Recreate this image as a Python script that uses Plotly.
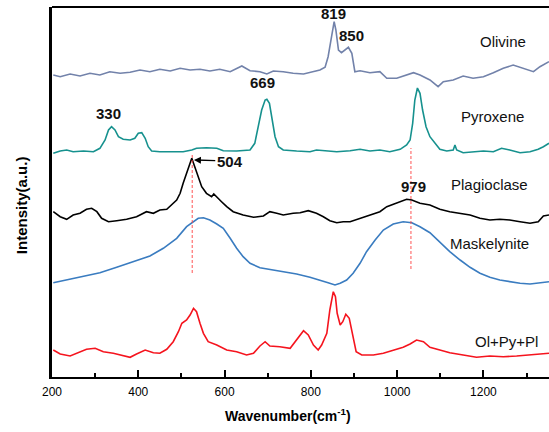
import plotly.graph_objects as go

# ---- data (wavenumber, relative intensity with vertical offsets) ----
ol_x = [203, 219, 242, 265, 288, 311, 334, 358, 381, 404, 427, 450, 474, 497, 520, 543, 566, 589, 613, 640,
        659, 682, 698, 713, 736, 759, 783, 806, 821, 833, 840, 848, 854, 858, 864, 871, 879, 887, 895, 902,
        914, 937, 960, 976, 999, 1022, 1038, 1053, 1076, 1095, 1107, 1130, 1153, 1176, 1200, 1223, 1246, 1269,
        1292, 1316, 1331, 1352]
ol_y = [302, 300.3, 303, 301, 303.7, 302, 305.3, 303.7, 304.7, 307, 305.3, 307.7, 306, 308.7, 307, 307.7, 306,
        307.7, 305.3, 311, 306.3, 305.3, 303, 306, 305.3, 303.7, 303, 305.3, 307, 309.7, 320.3, 340.3, 355.3,
        347, 327, 324.3, 327, 329.7, 323.7, 305.3, 306.3, 304.3, 305.3, 298.7, 298.7, 302, 304.3, 302, 297,
        290.3, 295.3, 297, 301, 298.7, 300.3, 304.3, 308.7, 312, 308.7, 305.3, 310.3, 315.3]

py_x = [203, 219, 234, 249, 273, 296, 311, 323, 331, 338, 346, 354, 365, 381, 392, 400, 408, 416, 423, 431,
        450, 474, 504, 524, 535, 558, 582, 597, 628, 659, 670, 678, 686, 694, 698, 704, 709, 717, 725, 736,
        767, 798, 813, 837, 860, 891, 914, 937, 960, 983, 1007, 1022, 1030, 1036, 1041, 1047, 1053, 1059,
        1067, 1076, 1088, 1099, 1115, 1130, 1134, 1138, 1153, 1176, 1200, 1223, 1242, 1261, 1285, 1308,
        1327, 1339, 1352]
py_y = [223.7, 226, 227, 225.3, 226, 225.3, 228.7, 237, 247, 250.3, 247, 240.3, 237.7, 237, 238.7, 243.7, 244.3,
        238.7, 230.3, 226, 225.3, 225.3, 225.3, 227, 228.7, 229.3, 228.7, 226.3, 226, 227, 233.7, 250.3, 267,
        277, 277.7, 273.7, 260.3, 240.3, 230.3, 227, 226, 225.3, 227, 226, 225.3, 226.3, 227.7, 226, 227,
        225.3, 227.7, 232, 237, 253.7, 277, 289, 283.7, 267, 250.3, 240.3, 233.7, 227.7, 226, 227, 232, 227,
        224.3, 225.3, 226, 225.3, 228.7, 227, 224.3, 225.3, 227.7, 230.3, 233.7]

pl_x = [203, 219, 234, 249, 265, 280, 292, 304, 315, 331, 350, 373, 396, 419, 435, 450, 466, 477, 489, 497,
        504, 524, 531, 539, 547, 558, 570, 575, 582, 593, 605, 620, 643, 667, 690, 705, 721, 736, 759, 775,
        794, 813, 829, 844, 860, 875, 891, 914, 937, 960, 976, 999, 1022, 1034, 1053, 1076, 1099, 1122, 1146,
        1169, 1192, 1215, 1238, 1261, 1285, 1308, 1327, 1339, 1352]
pl_y = [165.3, 160.3, 157.7, 162, 163.7, 167.7, 168.7, 165.3, 158.7, 155.3, 156.3, 157.7, 160.3, 165.3, 163.7,
        167, 167.7, 172, 177, 183.7, 193.7, 218.7, 210.3, 200.3, 190.3, 183.7, 180.3, 183, 180.3, 175.3, 170.3,
        165.3, 162, 159.7, 161, 165.3, 163.7, 162, 163.7, 164.3, 166.3, 163.7, 160.3, 156.3, 154.3, 155.3,
        155.3, 158.7, 162, 165.3, 170.3, 174.3, 177.7, 177, 173.7, 172, 167.7, 165.3, 163.7, 162, 158.7, 157,
        157.7, 157, 155.3, 153.7, 155.3, 161, 162]

mk_x = [203, 234, 273, 311, 350, 389, 427, 458, 489, 512, 528, 539, 551, 566, 582, 597, 613, 628, 643, 659,
        682, 705, 736, 767, 798, 821, 840, 856, 868, 883, 898, 914, 929, 949, 968, 991, 1014, 1034, 1053, 1076,
        1099, 1122, 1146, 1169, 1192, 1215, 1238, 1261, 1285, 1308, 1331, 1352]
mk_y = [94.3, 97, 100.3, 104.3, 109.7, 115.3, 121, 128.7, 138.7, 150.3, 155.3, 158.7, 159.3, 157, 153, 148.7,
        138.7, 128.7, 120.3, 113.7, 109.3, 107.7, 105.3, 103, 99.7, 97, 94.3, 92, 93.7, 97, 103.7, 113.7, 125.3,
        137, 147, 153, 155.3, 154.3, 150.3, 144.3, 135.3, 125.3, 117, 109.7, 103.7, 99.7, 97, 95.3, 93.7, 93,
        94.3, 95.3]

mix_x = [203, 219, 242, 265, 280, 300, 319, 342, 365, 381, 396, 416, 435, 450, 466, 481, 493, 501, 512, 520,
         528, 535, 543, 551, 562, 582, 605, 628, 651, 667, 682, 694, 705, 728, 752, 767, 783, 794, 806, 817,
         825, 837, 844, 852, 857, 861, 868, 874, 881, 889, 897, 905, 918, 945, 968, 991, 1014, 1030, 1045, 1061,
         1076, 1099, 1122, 1153, 1184, 1215, 1246, 1277, 1308, 1339, 1352]
mix_y = [27, 23, 21, 25.3, 27.7, 28.7, 25.3, 23.7, 21, 19.7, 23, 27, 24.3, 23.7, 27.7, 35.3, 45.3, 53.7, 57, 62,
         68.7, 65.3, 53.7, 43.7, 35.3, 32, 27, 25.3, 22, 23.7, 31, 35.3, 31, 30.3, 28.7, 37, 46.3, 42, 32, 27, 32,
         43.7, 67, 85.3, 80.3, 63.7, 52, 55.3, 62.7, 58.7, 40.3, 25.3, 22, 22, 23.7, 27, 29.7, 33, 37, 35.3, 29.7,
         27, 24.3, 22, 19.7, 21, 20.3, 21, 22, 23, 23.7]

names = ["Olivine", "Pyroxene", "Plagioclase", "Maskelynite", "Ol+Py+Pl"]
colors = ["#7282aa", "#16918e", "#000000", "#3a7cc0", "#f5141e"]

# guide lines (wavenumber, intensity range)
guide_x = [525, 1032]
guide_y0 = [104, 108]
guide_y1 = [222, 229]

# labels
peak_text = ["819", "850", "669", "330", "979"]
peak_x = [853, 895, 689, 330, 1037]
peak_y = [364, 342, 295, 264, 191]
name_x = [1245, 1222, 1215, 1215, 1254]
name_y = [336, 261, 193, 134, 36]

FONT = "Liberation Sans, Arial"

fig = go.Figure()
for xs, ys, nm, c in zip([ol_x, py_x, pl_x, mk_x, mix_x], [ol_y, py_y, pl_y, mk_y, mix_y], names, colors):
    fig.add_trace(go.Scatter(x=xs, y=ys, mode="lines", name=nm,
                             line=dict(color=c, width=1.6), showlegend=False))

for gx, a, b in zip(guide_x, guide_y0, guide_y1):
    fig.add_trace(go.Scatter(x=[gx, gx], y=[a, b], mode="lines", showlegend=False,
                             line=dict(color="#ff4040", width=0.9, dash="3px,2px")))

ann = []
for t, x, y in zip(peak_text, peak_x, peak_y):
    ann.append(dict(x=x, y=y, xref="x", yref="y", text="<b>" + t + "</b>", showarrow=False,
                    font=dict(family=FONT, size=15, color="#111")))
for t, x, y in zip(names, name_x, name_y):
    ann.append(dict(x=x, y=y, xref="x", yref="y", text=t, showarrow=False,
                    font=dict(family=FONT, size=15, color="#111")))
# 504 label with arrow to the plagioclase peak
ann.append(dict(x=529, y=217, xref="x", yref="y", ax=612, ay=216, axref="x", ayref="y",
                text="<b>504</b>", showarrow=True, arrowhead=2, arrowsize=1, arrowwidth=1.4,
                arrowcolor="#000", standoff=0, font=dict(family=FONT, size=15, color="#111")))
# axis titles
ann.append(dict(x=-0.060, y=0.465, xref="paper", yref="paper", xanchor="center", yanchor="middle",
                text="<b>Intensity(a.u.)</b>", textangle=-90, showarrow=False,
                font=dict(family=FONT, size=15, color="#000")))
ann.append(dict(x=0.475, y=-0.103, xref="paper", yref="paper", xanchor="center", yanchor="middle",
                text="<b>Wavenumber(cm<sup>-1</sup>)</b>", showarrow=False,
                font=dict(family=FONT, size=14, color="#000")))

fig.update_layout(
    width=549, height=432,
    margin=dict(l=52, r=0, t=7, b=55),
    paper_bgcolor="white", plot_bgcolor="white",
    annotations=ann,
    shapes=[dict(type="line", xref="paper", yref="paper", x0=0, x1=1, y0=1, y1=1,
                 line=dict(color="black", width=2))],
    xaxis=dict(range=[200, 1352], tickvals=[200, 400, 600, 800, 1000, 1200], ticks="inside",
               ticklen=7, tickwidth=2, tickcolor="black", showline=True, linecolor="black", linewidth=2,
               showgrid=False, zeroline=False, automargin=False, ticklabelstandoff=3,
               tickfont=dict(family=FONT, size=12, color="#000"),
               minor=dict(tickvals=[300, 500, 700, 900, 1100, 1300], ticks="inside", ticklen=4,
                          tickwidth=2, tickcolor="black", showgrid=False)),
    yaxis=dict(range=[0, 370], showticklabels=False, ticks="", showline=True, linecolor="black",
               linewidth=3, showgrid=False, zeroline=False, automargin=False),
)

fig.write_html("out.html", config={"displayModeBar": False},
               post_script="document.body.style.margin='0';document.body.style.overflow='hidden';")
